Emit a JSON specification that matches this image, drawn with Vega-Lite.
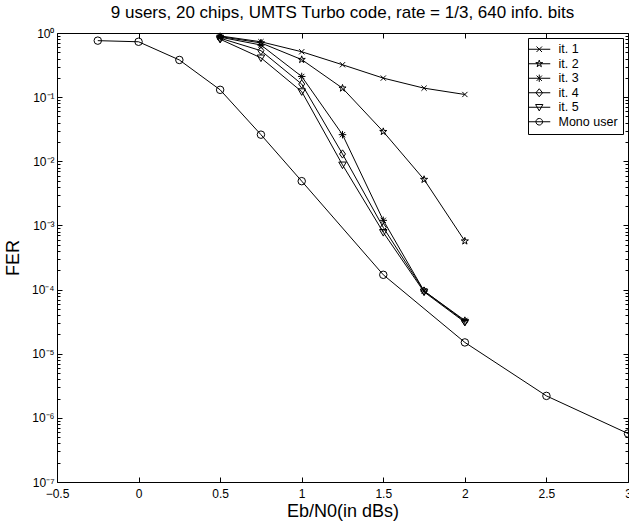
{
  "$schema": "https://vega.github.io/schema/vega-lite/v6.json",
  "autosize": {"type": "none"},
  "padding": {"left": 57, "top": 33, "right": 1, "bottom": 41},
  "width": 571,
  "height": 449,
  "title": {"text": "9 users, 20 chips, UMTS Turbo code, rate = 1/3, 640 info. bits", "font": "Liberation Sans", "fontSize": 17, "fontWeight": "normal", "anchor": "middle", "offset": 5, "color": "black"},
  "config": {
    "view": {"stroke": null},
    "axis": {"grid": false, "domainColor": "black", "tickColor": "black", "labelColor": "black", "titleColor": "black", "labelFont": "Liberation Sans", "titleFont": "Liberation Sans", "labelFontSize": 12, "titleFontSize": 18, "titleFontWeight": "normal", "labelFlush": false, "labelOverlap": false}
  },
  "data": {"values": [
    {"x": 0.5, "fer": 0.9, "s": "it. 1"},
    {"x": 0.75, "fer": 0.73, "s": "it. 1"},
    {"x": 1.0, "fer": 0.51, "s": "it. 1"},
    {"x": 1.25, "fer": 0.32, "s": "it. 1"},
    {"x": 1.5, "fer": 0.198, "s": "it. 1"},
    {"x": 1.75, "fer": 0.138, "s": "it. 1"},
    {"x": 2.0, "fer": 0.11, "s": "it. 1"},
    {"x": 0.5, "fer": 0.88, "s": "it. 2"},
    {"x": 0.75, "fer": 0.7, "s": "it. 2"},
    {"x": 1.0, "fer": 0.385, "s": "it. 2"},
    {"x": 1.25, "fer": 0.138, "s": "it. 2"},
    {"x": 1.5, "fer": 0.029, "s": "it. 2"},
    {"x": 1.75, "fer": 0.0052, "s": "it. 2"},
    {"x": 2.0, "fer": 0.00057, "s": "it. 2"},
    {"x": 0.5, "fer": 0.86, "s": "it. 3"},
    {"x": 0.75, "fer": 0.65, "s": "it. 3"},
    {"x": 1.0, "fer": 0.21, "s": "it. 3"},
    {"x": 1.25, "fer": 0.026, "s": "it. 3"},
    {"x": 1.5, "fer": 0.0012, "s": "it. 3"},
    {"x": 1.75, "fer": 0.000095, "s": "it. 3"},
    {"x": 2.0, "fer": 0.000033, "s": "it. 3"},
    {"x": 0.5, "fer": 0.83, "s": "it. 4"},
    {"x": 0.75, "fer": 0.53, "s": "it. 4"},
    {"x": 1.0, "fer": 0.16, "s": "it. 4"},
    {"x": 1.25, "fer": 0.013, "s": "it. 4"},
    {"x": 1.5, "fer": 0.00093, "s": "it. 4"},
    {"x": 1.75, "fer": 0.000095, "s": "it. 4"},
    {"x": 2.0, "fer": 0.000032, "s": "it. 4"},
    {"x": 0.5, "fer": 0.8, "s": "it. 5"},
    {"x": 0.75, "fer": 0.41, "s": "it. 5"},
    {"x": 1.0, "fer": 0.122, "s": "it. 5"},
    {"x": 1.25, "fer": 0.0088, "s": "it. 5"},
    {"x": 1.5, "fer": 0.00078, "s": "it. 5"},
    {"x": 1.75, "fer": 0.000092, "s": "it. 5"},
    {"x": 2.0, "fer": 0.000031, "s": "it. 5"},
    {"x": -0.25, "fer": 0.76, "s": "Mono user"},
    {"x": 0.0, "fer": 0.73, "s": "Mono user"},
    {"x": 0.25, "fer": 0.38, "s": "Mono user"},
    {"x": 0.5, "fer": 0.13, "s": "Mono user"},
    {"x": 0.75, "fer": 0.026, "s": "Mono user"},
    {"x": 1.0, "fer": 0.0049, "s": "Mono user"},
    {"x": 1.5, "fer": 0.00017, "s": "Mono user"},
    {"x": 2.0, "fer": 0.000015, "s": "Mono user"},
    {"x": 2.5, "fer": 0.0000022, "s": "Mono user"},
    {"x": 3.0, "fer": 0.00000057, "s": "Mono user"}
  ]},
  "resolve": {"axis": {"x": "independent", "y": "independent"}, "scale": {"shape": "independent"}},
  "layer": [
    {
      "mark": {"type": "line", "color": "black", "strokeWidth": 1, "clip": true},
      "encoding": {
        "x": {"field": "x", "type": "quantitative", "scale": {"domain": [-0.5, 3], "nice": false, "zero": false},
              "axis": {"orient": "bottom", "values": [-0.5, 0, 0.5, 1, 1.5, 2, 2.5, 3], "title": "Eb/N0(in dBs)", "tickSize": -5, "labelPadding": 11, "titlePadding": 3, "format": ".1~f"}},
        "y": {"field": "fer", "type": "quantitative", "scale": {"type": "log", "domain": [1e-7, 1], "nice": false},
              "axis": {"orient": "left", "title": "FER", "titlePadding": 9,
                       "values": [1e-7,2e-7,3e-7,4e-7,5e-7,6e-7,7e-7,8e-7,9e-7,1e-6,2e-6,3e-6,4e-6,5e-6,6e-6,7e-6,8e-6,9e-6,1e-5,2e-5,3e-5,4e-5,5e-5,6e-5,7e-5,8e-5,9e-5,1e-4,2e-4,3e-4,4e-4,5e-4,6e-4,7e-4,8e-4,9e-4,1e-3,2e-3,3e-3,4e-3,5e-3,6e-3,7e-3,8e-3,9e-3,1e-2,2e-2,3e-2,4e-2,5e-2,6e-2,7e-2,8e-2,9e-2,0.1,0.2,0.3,0.4,0.5,0.6,0.7,0.8,0.9,1],
                       "tickSize": {"condition": {"test": "abs(log(datum.value)/LN10 - round(log(datum.value)/LN10)) < 1e-6", "value": -5}, "value": -3},
                       "labelPadding": 8,
                       "labelExpr": "abs(log(datum.value)/LN10 - round(log(datum.value)/LN10)) < 1e-6 ? '10' + ['⁰','⁻¹','⁻²','⁻³','⁻⁴','⁻⁵','⁻⁶','⁻⁷'][-round(log(datum.value)/LN10)] : ''"}},
        "detail": {"field": "s"}
      }
    },
    {
      "mark": {"type": "point", "filled": false, "stroke": "black", "strokeWidth": 1, "size": 56, "opacity": 1},
      "encoding": {
        "x": {"field": "x", "type": "quantitative",
              "axis": {"orient": "top", "values": [-0.5, 0, 0.5, 1, 1.5, 2, 2.5, 3], "title": null, "labels": false, "tickSize": -5}},
        "y": {"field": "fer", "type": "quantitative",
              "axis": {"orient": "right", "title": null, "labels": false,
                       "values": [1e-7,2e-7,3e-7,4e-7,5e-7,6e-7,7e-7,8e-7,9e-7,1e-6,2e-6,3e-6,4e-6,5e-6,6e-6,7e-6,8e-6,9e-6,1e-5,2e-5,3e-5,4e-5,5e-5,6e-5,7e-5,8e-5,9e-5,1e-4,2e-4,3e-4,4e-4,5e-4,6e-4,7e-4,8e-4,9e-4,1e-3,2e-3,3e-3,4e-3,5e-3,6e-3,7e-3,8e-3,9e-3,1e-2,2e-2,3e-2,4e-2,5e-2,6e-2,7e-2,8e-2,9e-2,0.1,0.2,0.3,0.4,0.5,0.6,0.7,0.8,0.9,1],
                       "tickSize": {"condition": {"test": "abs(log(datum.value)/LN10 - round(log(datum.value)/LN10)) < 1e-6", "value": -5}, "value": -3}}},
        "shape": {"field": "s", "type": "nominal",
                  "scale": {"domain": ["it. 1", "it. 2", "it. 3", "it. 4", "it. 5", "Mono user"],
                            "range": ["M-0.7,-0.7L0.7,0.7M-0.7,0.7L0.7,-0.7",
                                      "M0,-1L0.225,-0.309L0.951,-0.309L0.363,0.118L0.588,0.809L0,0.382L-0.588,0.809L-0.363,0.118L-0.951,-0.309L-0.225,-0.309Z",
                                      "M-1,0L1,0M0,-1L0,1M-0.7,-0.7L0.7,0.7M-0.7,0.7L0.7,-0.7",
                                      "M0,-1.1L0.8,0L0,1.1L-0.8,0Z",
                                      "M-1,-0.75L1,-0.75L0,1Z",
                                      "circle"]},
                  "legend": null}
      }
    },
    {
      "mark": {"type": "point", "filled": false, "stroke": "black", "strokeWidth": 1, "size": 100, "opacity": 0},
      "encoding": {
        "shape": {"field": "s", "type": "nominal",
                  "scale": {"domain": ["it. 1", "it. 2", "it. 3", "it. 4", "it. 5", "Mono user"],
                            "range": ["M-2.2,0L2.2,0M-0.55,-0.55L0.55,0.55M-0.55,0.55L0.55,-0.55",
                                      "M-2.2,0L2.2,0M0,-0.73L0.163,-0.224L0.69,-0.224L0.264,0.086L0.427,0.587L0,0.277L-0.427,0.587L-0.264,0.086L-0.69,-0.224L-0.163,-0.224Z",
                                      "M-2.2,0L2.2,0M0,-0.73L0,0.73M-0.53,-0.53L0.53,0.53M-0.53,0.53L0.53,-0.53",
                                      "M-2.2,0L2.2,0M0,-0.8L0.66,0L0,0.8L-0.66,0Z",
                                      "M-2.2,0L2.2,0M-0.73,-0.55L0.73,-0.55L0,0.73Z",
                                      "M-2.2,0L2.2,0M0.66,0A0.66,0.66 0 1,1 -0.66,0A0.66,0.66 0 1,1 0.66,0Z"]},
                  "legend": {"orient": "top-right", "offset": 5, "title": null, "strokeColor": "black", "fillColor": "white", "padding": 5,
                             "symbolSize": 100, "symbolStrokeColor": "black", "symbolStrokeWidth": 1, "symbolFillColor": "transparent", "symbolOpacity": 1,
                             "labelFont": "Liberation Sans", "labelFontSize": 12.5, "labelColor": "black", "rowPadding": 1.5, "labelOffset": 13, "cornerRadius": 0}}
      }
    }
  ]
}
